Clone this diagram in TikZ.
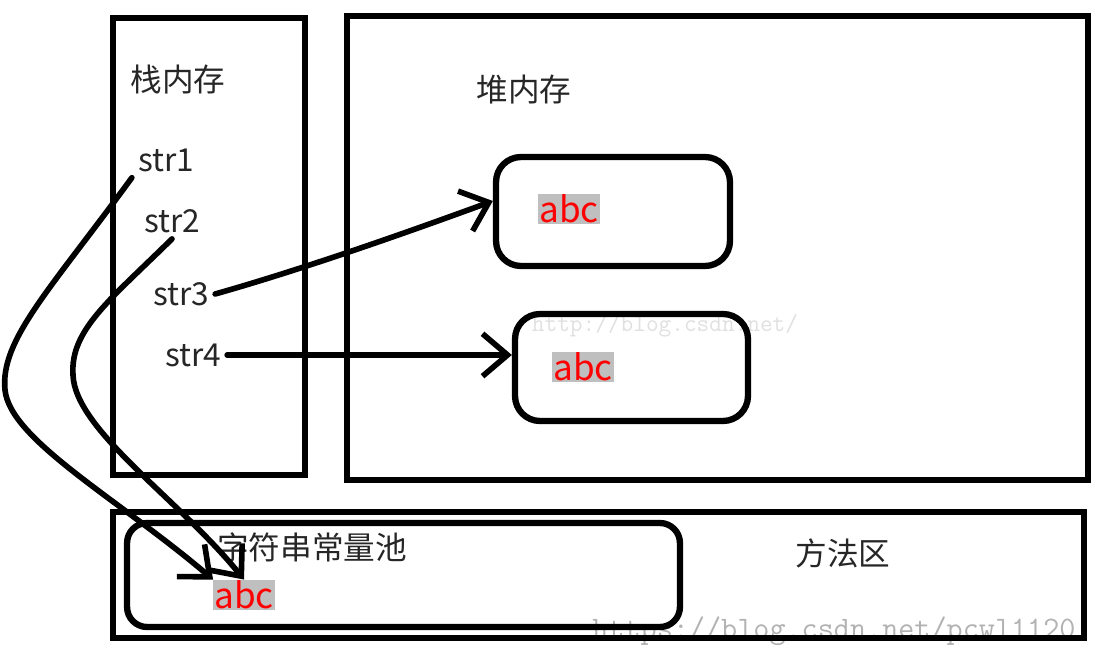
\documentclass[tikz,border=0pt]{standalone}
\usepackage{fontspec}
\setmainfont{Noto Sans CJK SC}
\usetikzlibrary{arrows.meta}

\begin{document}
\begin{tikzpicture}[x=0.02cm,y=-0.02cm,
   area/.style={draw,line width=3.6pt,inner sep=0pt},
   obj/.style={area,rounded corners=0.5cm},
   lbl/.style={text=black!85,font=\fontsize{18}{20}\selectfont},
   val/.style={text=red,fill=black!25,inner sep=0.5pt,font=\fontsize{20}{22}\selectfont},
   ref/.style={line width=3.2pt,line cap=round,-{Straight Barb[length=0.5cm,width=0.85cm]}},
   wmark/.style={font=\ttfamily,inner sep=0pt}]
   \useasboundingbox (0,0) rectangle (1099,648);
   % watermarks
   \node[wmark,text=black!12,font=\ttfamily\fontsize{14}{16}\selectfont] (wm1) at (665,326) {http://blog.csdn.net/};
   \node[wmark,text=black!30,font=\ttfamily\fontsize{17.8}{20}\selectfont,anchor=base west] (wm2) at (592,638) {https://blog.csdn.net/pcwl1120};
   % areas
   \node[area,minimum width=3.84cm,minimum height=9.14cm] (stack) at (209,246.5) {};
   \node[area,minimum width=14.82cm,minimum height=9.28cm] (heap) at (717.5,248) {};
   \node[area,minimum width=19.42cm,minimum height=2.52cm] (method) at (598.5,575) {};
   \node[obj,rounded corners=0.4cm,minimum width=11.06cm,minimum height=2.08cm] (pool) at (403.5,575) {};
   \node[obj,minimum width=4.68cm,minimum height=2.18cm] (obj1) at (613,211.5) {};
   \node[obj,minimum width=4.66cm,minimum height=2.14cm] (obj2) at (631.5,367.5) {};
   % labels
   \node[lbl] (stacklbl) at (178,80) {栈内存};
   \node[lbl] (heaplbl) at (524,90) {堆内存};
   \node[lbl] (poollbl) at (312,547) {字符串常量池};
   \node[lbl] (methodlbl) at (843,553) {方法区};
   \node[lbl] (str1) at (166,160) {str1};
   \node[lbl] (str2) at (172,221) {str2};
   \node[lbl] (str3) at (181,294) {str3};
   \node[lbl] (str4) at (193,355) {str4};
   \node[val] (abc1) at (569,209) {abc};
   \node[val] (abc2) at (583,367) {abc};
   \node[val] (abc3) at (244,595) {abc};
   % references
   \draw[ref] (str3.east) .. controls (300,270) and (400,235) .. (obj1.175);
   \draw[ref] (str4.east) -- (str4.east -| obj2.west);
   \draw[ref] (str1.south west) .. controls (50,290) and (0,340) .. (5,390)
      .. controls (10,440) and (120,500) .. (abc3.north west);
   \draw[ref] (str2.south) .. controls (110,300) and (70,330) .. (73,375)
      .. controls (75,430) and (180,500) .. (abc3.north);
\end{tikzpicture}
\end{document}
